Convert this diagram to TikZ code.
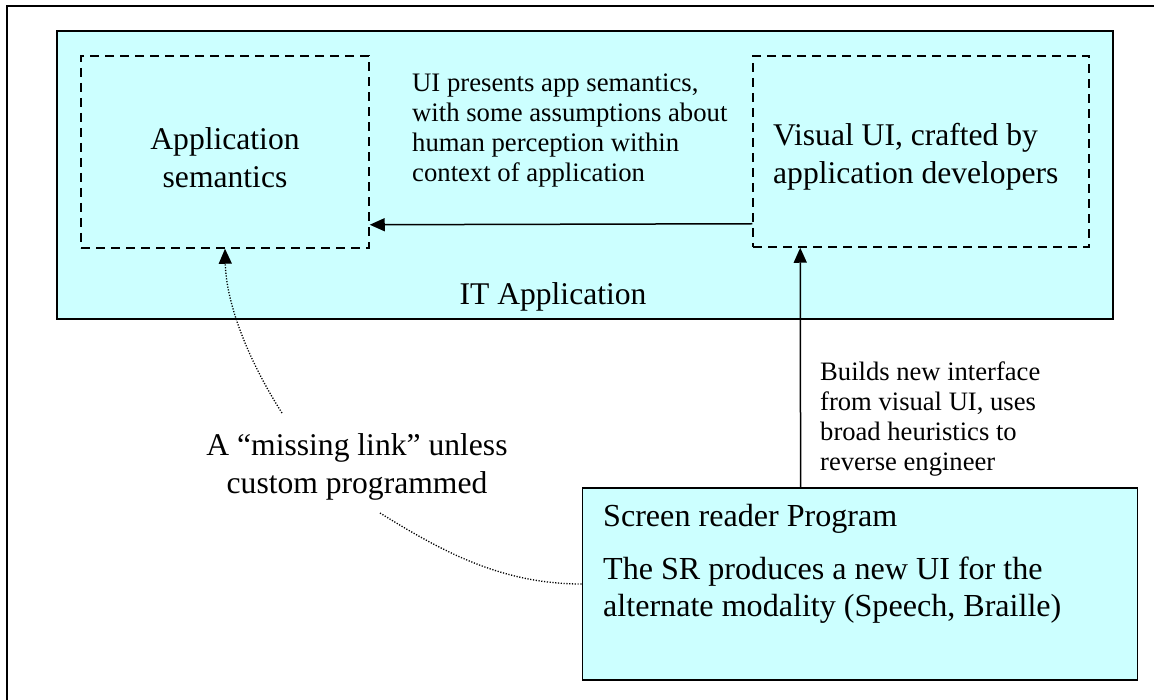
\documentclass[tikz,border=0pt]{standalone}
\usepackage{fontspec}
\setmainfont{Liberation Serif}
\usetikzlibrary{arrows.meta,calc}
\definecolor{appcyan}{HTML}{CCFFFF}
\tikzset{
  solidbox/.style={draw=black, line width=1.8pt, fill=appcyan, inner sep=0pt},
  dashbox/.style={draw=black, line width=1.5pt, dash pattern=on 9pt off 6pt, inner sep=0pt},
  arr/.style={line width=1.5pt, -{Triangle[length=15pt,width=13pt]}},
  dotarr/.style={line width=1.3pt, dash pattern=on 1.2pt off 1.6pt, -{Triangle[length=15pt,width=13pt]}},
  dotline/.style={line width=1.3pt, dash pattern=on 1.2pt off 1.6pt},
  bigtext/.style={font=\fontsize{31.6}{38}\selectfont, align=center, inner sep=0pt},
  midtext/.style={font=\fontsize{26.7}{30}\selectfont, align=left, inner sep=0pt},
  smalltext/.style={font=\fontsize{26.6}{30}\selectfont, align=left, inner sep=0pt},
  srtext/.style={font=\fontsize{32.1}{37}\selectfont, align=left, inner sep=0pt},
}
\begin{document}
\begin{tikzpicture}[x=1pt,y=-1pt]
\useasboundingbox (0,0) rectangle (1154,700);
% outer frame (left and top edges visible)
\draw[line width=2.2pt] (7,700) -- (7,6) -- (1154,6);
% IT application box
\node[solidbox, minimum width=1056pt, minimum height=288pt] (itapp) at (585,175) {};
\node[bigtext] (itlabel) at (553,297) {IT Application};
% inner dashed boxes
\node[dashbox, minimum width=288pt, minimum height=192pt] (appsem) at (225,152) {};
\node[bigtext] (appsemtext) at (225,158) {Application\\semantics};
\node[dashbox, minimum width=336pt, minimum height=191pt] (visual) at (921,151.5) {};
\node[bigtext, anchor=west, align=left] (visualtext) at (773,157) {Visual UI, crafted by\\application developers};
% middle label
\node[midtext, anchor=west] (midlabel) at (412,131) {UI presents app semantics,\\with some assumptions about\\human perception within\\context of application};
% arrow from visual UI to app semantics
\draw[arr] ([yshift=24pt]visual.south west) -- ([yshift=24pt]appsem.south east);
% screen reader box
\node[solidbox, minimum width=555pt, minimum height=192pt] (sr) at (860,584) {};
\node[srtext, anchor=west] (srtitle) at (603,519) {Screen reader Program};
\node[srtext, anchor=west] (srbody) at (603,590) {The SR produces a new UI for the\\alternate modality (Speech, Braille)};
% arrow from SR to visual UI
\draw[arr] ([xshift=219pt]sr.north west) -- ([xshift=48pt]visual.south west);
\node[smalltext, anchor=west] (buildlabel) at (820,419) {Builds new interface\\from visual UI, uses\\broad heuristics to\\reverse engineer};
% missing link label and dotted curves
\node[bigtext] (mlabel) at (357,467) {A “missing link” unless\\custom programmed};
\coordinate (d1) at (282,413);
\coordinate (d2) at (380,513);
\draw[dotarr] (d1) .. controls (245,355) and (226,300) .. (appsem.south);
\draw[dotline] (d2) .. controls (440,550) and (500,584) .. (sr.west);
\end{tikzpicture}
\end{document}
